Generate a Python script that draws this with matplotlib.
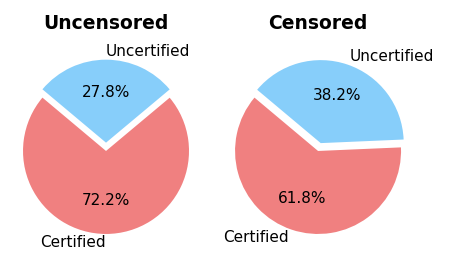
import matplotlib
matplotlib.use('Agg')
import matplotlib.pyplot as plt

labels = ['Certified', 'Uncertified']
uncensored = [72.2, 27.8]
censored = [61.8, 38.2]
colors = ['lightcoral', 'lightskyblue']
explode = (0, 0.1)

plt.rcParams['font.size'] = 11

fig, axes = plt.subplots(1, 2, figsize=(4.55, 2.73), dpi=100)
fig.subplots_adjust(left=0.005, right=0.927, bottom=0.067, top=0.827, wspace=0.022)

for ax, sizes, title in zip(axes, [uncensored, censored], ['Uncensored', 'Censored']):
    ax.pie(sizes, labels=labels, colors=colors, explode=explode,
           autopct='%1.1f%%', startangle=140)
    ax.set_title(title, fontsize=13.5, fontweight='bold', pad=13)

plt.savefig('out.png')
